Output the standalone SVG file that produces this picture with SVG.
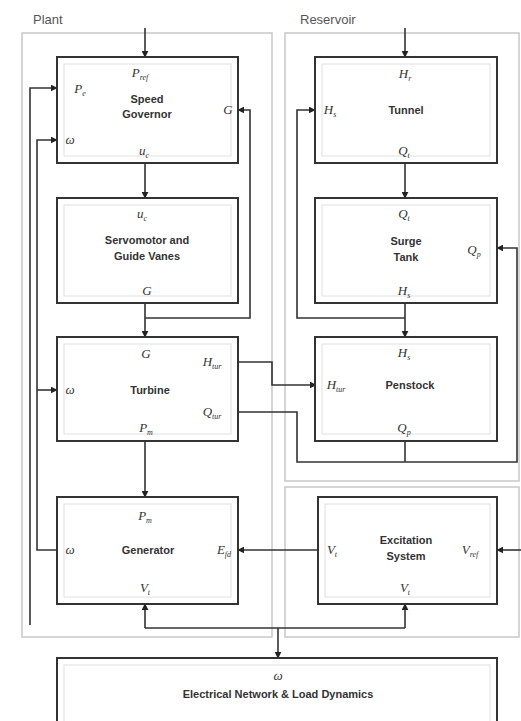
<svg xmlns="http://www.w3.org/2000/svg" width="521" height="721" viewBox="0 0 521 721">
<defs>
<marker id="ah" viewBox="0 0 10 10" refX="9" refY="5" markerWidth="7" markerHeight="7" orient="auto-start-reverse" markerUnits="userSpaceOnUse">
<path d="M0,0 L10,5 L0,10 z" fill="#222"/>
</marker>
<style>
.frame{fill:none;stroke:#c8c8c8;stroke-width:1.5}
.box{fill:#fff;stroke:#333;stroke-width:2}
.inner{fill:none;stroke:#e0e0e0;stroke-width:1}
.title{font-family:"Liberation Sans",Arial,sans-serif;font-size:11px;font-weight:bold;fill:#333;text-anchor:middle}
.var{font-family:"Liberation Serif","Times New Roman",serif;font-style:italic;font-size:13px;fill:#333;text-anchor:middle}
.sub{font-size:8px}
.region{font-family:"Liberation Sans",Arial,sans-serif;font-size:13px;fill:#555}
.c{fill:none;stroke:#333;stroke-width:1.6}
</style>
</defs>
<rect width="521" height="721" fill="#fff"/>
<g id="frames">
<rect class="frame" x="22" y="33" width="250" height="604"/>
<rect class="frame" x="285" y="33" width="234" height="448"/>
<rect class="frame" x="285" y="487" width="234" height="150"/>
<text class="region" x="33" y="24">Plant</text>
<text class="region" x="300" y="24">Reservoir</text>
</g>
<g id="connectors">
<path class="c" d="M145,28 V57" marker-end="url(#ah)"/>
<path class="c" d="M145,163 V198" marker-end="url(#ah)"/>
<path class="c" d="M145,303 V337" marker-end="url(#ah)"/>
<path class="c" d="M145,318 H250 V110 H238" marker-end="url(#ah)"/>
<path class="c" d="M145,441 V497" marker-end="url(#ah)"/>
<path class="c" d="M57,550 H37 V140 H57" marker-end="url(#ah)"/>
<path class="c" d="M37,390 H57" marker-end="url(#ah)"/>
<path class="c" d="M30,625 V88 H57" marker-end="url(#ah)"/>
<path class="c" d="M145,628 V604" marker-end="url(#ah)"/>
<path class="c" d="M145,628 H405"/>
<path class="c" d="M405,628 V604" marker-end="url(#ah)"/>
<path class="c" d="M278,628 V658" marker-end="url(#ah)"/>
<path class="c" d="M318,550 H238" marker-end="url(#ah)"/>
<path class="c" d="M521,550 H497" marker-end="url(#ah)"/>
<path class="c" d="M405,28 V57" marker-end="url(#ah)"/>
<path class="c" d="M405,163 V198" marker-end="url(#ah)"/>
<path class="c" d="M405,303 V337" marker-end="url(#ah)"/>
<path class="c" d="M405,318 H297 V110 H315" marker-end="url(#ah)"/>
<path class="c" d="M238,362 H272 V385 H316" marker-end="url(#ah)"/>
<path class="c" d="M238,412 H297 V462 H517 V248 H497" marker-end="url(#ah)"/>
<path class="c" d="M405,441 V462"/>
</g>
<g id="governor">
<rect class="box" x="57" y="57" width="181" height="106"/>
<rect class="inner" x="64" y="64" width="167" height="92"/>
<text class="title" x="147" y="103">Speed</text>
<text class="title" x="147" y="118">Governor</text>
<text class="var" x="140" y="77">P<tspan class="sub" dy="3">ref</tspan></text>
<text class="var" x="80" y="93">P<tspan class="sub" dy="3">e</tspan></text>
<text class="var" x="70" y="144">ω</text>
<text class="var" x="228" y="114">G</text>
<text class="var" x="144" y="155">u<tspan class="sub" dy="3">c</tspan></text>
</g>
<g id="servomotor">
<rect class="box" x="57" y="198" width="181" height="105"/>
<rect class="inner" x="64" y="205" width="167" height="91"/>
<text class="title" x="147" y="244">Servomotor and</text>
<text class="title" x="147" y="260">Guide Vanes</text>
<text class="var" x="142" y="218">u<tspan class="sub" dy="3">c</tspan></text>
<text class="var" x="147" y="295">G</text>
</g>
<g id="turbine">
<rect class="box" x="57" y="337" width="181" height="104"/>
<rect class="inner" x="64" y="344" width="167" height="90"/>
<text class="title" x="150" y="394">Turbine</text>
<text class="var" x="146" y="358">G</text>
<text class="var" x="70" y="394">ω</text>
<text class="var" x="212" y="366">H<tspan class="sub" dy="3">tur</tspan></text>
<text class="var" x="212" y="416">Q<tspan class="sub" dy="3">tur</tspan></text>
<text class="var" x="146" y="432">P<tspan class="sub" dy="3">m</tspan></text>
</g>
<g id="generator">
<rect class="box" x="57" y="497" width="181" height="107"/>
<rect class="inner" x="64" y="504" width="167" height="93"/>
<text class="title" x="148" y="554">Generator</text>
<text class="var" x="145" y="520">P<tspan class="sub" dy="3">m</tspan></text>
<text class="var" x="70" y="554">ω</text>
<text class="var" x="224" y="554">E<tspan class="sub" dy="3">fd</tspan></text>
<text class="var" x="145" y="592">V<tspan class="sub" dy="3">t</tspan></text>
</g>
<g id="tunnel">
<rect class="box" x="315" y="57" width="182" height="106"/>
<rect class="inner" x="322" y="64" width="168" height="92"/>
<text class="title" x="406" y="114">Tunnel</text>
<text class="var" x="405" y="78">H<tspan class="sub" dy="3">r</tspan></text>
<text class="var" x="330" y="114">H<tspan class="sub" dy="3">s</tspan></text>
<text class="var" x="404" y="155">Q<tspan class="sub" dy="3">t</tspan></text>
</g>
<g id="surgetank">
<rect class="box" x="315" y="198" width="182" height="105"/>
<rect class="inner" x="322" y="205" width="168" height="91"/>
<text class="title" x="406" y="245">Surge</text>
<text class="title" x="406" y="261">Tank</text>
<text class="var" x="404" y="218">Q<tspan class="sub" dy="3">t</tspan></text>
<text class="var" x="474" y="254">Q<tspan class="sub" dy="3">p</tspan></text>
<text class="var" x="404" y="295">H<tspan class="sub" dy="3">s</tspan></text>
</g>
<g id="penstock">
<rect class="box" x="315" y="337" width="182" height="104"/>
<rect class="inner" x="322" y="344" width="168" height="90"/>
<text class="title" x="410" y="389">Penstock</text>
<text class="var" x="404" y="357">H<tspan class="sub" dy="3">s</tspan></text>
<text class="var" x="336" y="389">H<tspan class="sub" dy="3">tur</tspan></text>
<text class="var" x="404" y="432">Q<tspan class="sub" dy="3">p</tspan></text>
</g>
<g id="excitation">
<rect class="box" x="318" y="497" width="179" height="107"/>
<rect class="inner" x="325" y="504" width="165" height="93"/>
<text class="title" x="406" y="544">Excitation</text>
<text class="title" x="406" y="560">System</text>
<text class="var" x="332" y="554">V<tspan class="sub" dy="3">t</tspan></text>
<text class="var" x="470" y="554">V<tspan class="sub" dy="3">ref</tspan></text>
<text class="var" x="405" y="592">V<tspan class="sub" dy="3">t</tspan></text>
</g>
<g id="network">
<rect class="box" x="57" y="658" width="440" height="70"/>
<rect class="inner" x="64" y="665" width="426" height="60"/>
<text class="var" x="278" y="680">ω</text>
<text class="title" x="278" y="698">Electrical Network &amp; Load Dynamics</text>
</g>
</svg>
